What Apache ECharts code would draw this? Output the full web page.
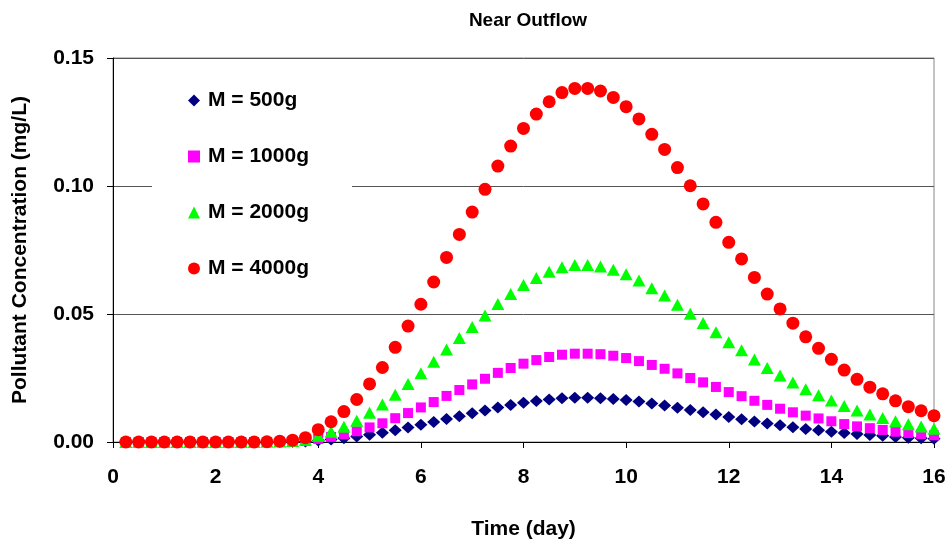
<!DOCTYPE html>
<html>
<head>
<meta charset="utf-8">
<script src="https://cdn.jsdelivr.net/npm/echarts@6/dist/echarts.min.js"></script>
<style>html,body{margin:0;padding:0;background:#fff}#c{width:950px;height:548px}</style>
</head>
<body>
<div id="c"></div>
<script>
var chartTitle = "Near Outflow";
var xAxisTitle = "Time (day)";
var yAxisTitle = "Pollutant Concentration (mg/L)";
var seriesNames = ["M = 500g", "M = 1000g", "M = 2000g", "M = 4000g"];
var times = [0.25,0.5,0.75,1,1.25,1.5,1.75,2,2.25,2.5,2.75,3,3.25,3.5,3.75,4,4.25,4.5,4.75,5,5.25,5.5,5.75,6,6.25,6.5,6.75,7,7.25,7.5,7.75,8,8.25,8.5,8.75,9,9.25,9.5,9.75,10,10.25,10.5,10.75,11,11.25,11.5,11.75,12,12.25,12.5,12.75,13,13.25,13.5,13.75,14,14.25,14.5,14.75,15,15.25,15.5,15.75,16];
var m500 = [0,0,0,0,0,0,0,0,0,0,0,0,0,0.0001,0.0002,0.0006,0.0010,0.0015,0.0021,0.0028,0.0036,0.0046,0.0057,0.0067,0.0078,0.0090,0.0101,0.0112,0.0123,0.0135,0.0145,0.0153,0.0160,0.0166,0.0171,0.0173,0.0173,0.0171,0.0168,0.0164,0.0158,0.0150,0.0143,0.0134,0.0125,0.0116,0.0107,0.0098,0.0089,0.0080,0.0072,0.0065,0.0058,0.0051,0.0046,0.0040,0.0035,0.0031,0.0027,0.0024,0.0020,0.0017,0.0015,0.0013];
var m1000 = [0,0,0,0,0,0,0,0,0,0,0,0,0.0001,0.0002,0.0004,0.0012,0.0020,0.0030,0.0042,0.0057,0.0073,0.0093,0.0113,0.0135,0.0156,0.0180,0.0203,0.0225,0.0247,0.0270,0.0289,0.0306,0.0320,0.0332,0.0341,0.0345,0.0345,0.0343,0.0337,0.0328,0.0316,0.0301,0.0286,0.0268,0.0250,0.0233,0.0215,0.0195,0.0179,0.0161,0.0145,0.0130,0.0116,0.0103,0.0092,0.0081,0.0070,0.0061,0.0054,0.0047,0.0040,0.0035,0.0031,0.0026];
var m2000 = [0,0,0,0,0,0,0,0,0,0,0,0.0001,0.0002,0.0004,0.0009,0.0024,0.0040,0.0060,0.0083,0.0114,0.0146,0.0185,0.0227,0.0269,0.0313,0.0361,0.0406,0.0449,0.0494,0.0539,0.0578,0.0613,0.0641,0.0665,0.0683,0.0691,0.0691,0.0686,0.0673,0.0655,0.0631,0.0601,0.0572,0.0536,0.0501,0.0465,0.0429,0.0390,0.0358,0.0322,0.0289,0.0260,0.0232,0.0206,0.0183,0.0162,0.0141,0.0123,0.0107,0.0094,0.0081,0.0069,0.0061,0.0052];
var m4000 = [0,0,0,0,0,0,0,0,0,0,0,0.0001,0.0003,0.0007,0.0017,0.0048,0.0079,0.0119,0.0166,0.0227,0.0291,0.0370,0.0453,0.0538,0.0625,0.0721,0.0811,0.0898,0.0987,0.1078,0.1156,0.1225,0.1281,0.1329,0.1365,0.1381,0.1381,0.1371,0.1346,0.1310,0.1262,0.1202,0.1143,0.1072,0.1001,0.0930,0.0858,0.0780,0.0715,0.0643,0.0578,0.0520,0.0464,0.0411,0.0366,0.0323,0.0281,0.0245,0.0214,0.0188,0.0161,0.0138,0.0122,0.0103];

function pairs(vals){ return times.map(function(t,i){ return [t, vals[i]]; }); }

var font = "Arial, 'Liberation Sans', sans-serif";
var chart = echarts.init(document.getElementById('c'), null, {renderer:'canvas'});
var seriesData = [m500, m1000, m2000, m4000];
var colors = ['#000080', '#FF00FF', '#00FF00', '#FF0000'];
var symbols = ['diamond', 'rect', 'triangle', 'circle'];
var sizes = [[13,12], 10, [13,12], 13];

chart.setOption({
  animation: false,
  backgroundColor: '#fff',
  title: {
    text: chartTitle, left: 523, top: 6, textAlign: 'center',
    textStyle: {fontFamily: font, fontWeight: 'bold', fontSize: 19, color: '#000'}
  },
  grid: {left: 113, right: 16, top: 58, bottom: 106, show: true, borderColor: '#888', borderWidth: 1, backgroundColor: 'transparent'},
  legend: {
    orient: 'vertical', left: 152, top: 80,
    padding: [10, 43, 10, 36],
    backgroundColor: '#fff',
    itemGap: 35, itemWidth: 12, itemHeight: 12,
    textStyle: {fontFamily: font, fontWeight: 'bold', fontSize: 21, color: '#000', lineHeight: 20, padding: [0, 0, 0, 3]},
    data: seriesNames.map(function(n,i){ return {name: n, icon: symbols[i]}; })
  },
  xAxis: {
    type: 'value', min: 0, max: 16, interval: 2,
    name: xAxisTitle, nameLocation: 'middle', nameGap: 77,
    nameTextStyle: {fontFamily: font, fontWeight: 'bold', fontSize: 21, color: '#000'},
    axisLine: {show: true, onZero: false, lineStyle: {color: '#000', width: 1}},
    axisTick: {show: true, inside: false, length: 6, lineStyle: {color: '#000'}},
    axisLabel: {fontFamily: font, fontWeight: 'bold', fontSize: 21, color: '#000', margin: 25},
    splitLine: {show: false}
  },
  yAxis: {
    type: 'value', min: 0, max: 0.15, interval: 0.05,
    name: yAxisTitle, nameLocation: 'middle', nameGap: 82,
    nameTextStyle: {fontFamily: font, fontWeight: 'bold', fontSize: 21, color: '#000'},
    axisLine: {show: true, lineStyle: {color: '#000', width: 1}},
    axisTick: {show: true, inside: false, length: 6, lineStyle: {color: '#000'}},
    axisLabel: {fontFamily: font, fontWeight: 'bold', fontSize: 21, color: '#000', margin: 19,
      formatter: function(v){ return v.toFixed(2); }},
    splitLine: {show: true, lineStyle: {color: '#555', width: 1}}
  },
  series: seriesNames.map(function(n,i){
    return {
      name: n, type: 'scatter', symbol: symbols[i], symbolSize: sizes[i],
      itemStyle: {color: colors[i], opacity: 1},
      clip: false,
      data: pairs(seriesData[i])
    };
  })
});
</script>
</body>
</html>
